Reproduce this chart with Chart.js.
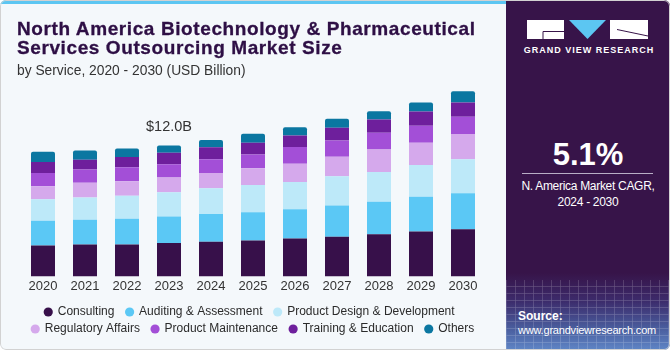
<!DOCTYPE html>
<html>
<head>
<meta charset="utf-8">
<script src="https://cdn.jsdelivr.net/npm/chart.js@4.4.1/dist/chart.umd.min.js"></script>
<style>
html, body { margin: 0; padding: 0; background: #ffffff; }
#card { position: relative; width: 670px; height: 350px; overflow: hidden; background: #f4f8fb; border-radius: 6px; font-family: 'Liberation Sans', Arial, sans-serif; }
#strip { position: absolute; left: 0; top: 0; width: 506px; height: 4px; background: #5cc6f2; }
#chartbox { position: absolute; left: 0; top: 0; width: 505px; height: 350px; }
#title { position: absolute; left: 17px; top: 18.9px; font-size: 19px; line-height: 19.3px; font-weight: bold; color: #2e0f45; letter-spacing: 0.6px; white-space: nowrap; z-index: 2; -webkit-text-stroke: 0.3px #2e0f45; }
#sub { position: absolute; left: 17px; top: 64px; font-size: 13.8px; line-height: 13.8px; color: #333333; white-space: nowrap; z-index: 2; }
#side { position: absolute; left: 506px; top: 0; width: 164px; height: 350px;
  background: linear-gradient(to bottom, #371449 0%, #371449 78%, #3d2c6c 86%, #4b5f9f 94%, #5f86c6 100%); }
#grid { position: absolute; left: 506px; top: 280px; width: 164px; height: 70px; opacity: 0.25;
  background-image: repeating-linear-gradient(90deg, rgba(255,255,255,0.6) 0 1px, transparent 1px 9px), repeating-linear-gradient(0deg, rgba(255,255,255,0.6) 0 1px, transparent 1px 7px); }
#brand { position: absolute; left: 506px; width: 164px; top: 46.3px; text-align: center; font-size: 9px; line-height: 9px; font-weight: bold; color: #ffffff; letter-spacing: 1px; padding-left: 1px; }
#cagr { position: absolute; left: 506px; width: 164px; top: 139.4px; text-align: center; font-size: 31px; line-height: 31px; font-weight: bold; color: #ffffff; }
#rule { position: absolute; left: 522px; width: 131px; top: 173px; height: 1px; background: #b9aec6; }
#cagrtxt { position: absolute; left: 506px; width: 164px; top: 177.8px; text-align: center; font-size: 12px; line-height: 16px; color: #ffffff; letter-spacing: -0.3px; }
#src1 { position: absolute; left: 518px; top: 310px; font-size: 12px; line-height: 12px; font-weight: bold; color: #ffffff; }
#src2 { position: absolute; left: 518px; top: 324.6px; font-size: 11px; line-height: 11px; color: #ffffff; letter-spacing: -0.2px; }
#logo { position: absolute; left: 527px; top: 20px; }
#frame { position: absolute; left: 0; top: 0; width: 670px; height: 350px; box-sizing: border-box; border: 1px solid #d2d2d2; border-radius: 6px; pointer-events: none; z-index: 5; }
</style>
</head>
<body>
<div id="card">
  <div id="strip"></div>
  <div id="chartbox"><canvas id="c"></canvas></div>
  <div id="title">North America Biotechnology &amp; Pharmaceutical<br>Services Outsourcing Market Size</div>
  <div id="sub">by Service, 2020 - 2030 (USD Billion)</div>
  <div id="side"></div>
  <div id="grid"></div>
  <svg id="logo" width="122" height="20" viewBox="0 0 122 20">
    <rect x="0" y="0" width="37" height="19" fill="#ffffff"/>
    <path d="M16 11.5 H37 M16 11.5 V19" stroke="#371449" stroke-width="1" fill="none"/>
    <polygon points="42,0 79,0 60.5,19" fill="#5cc6f2"/>
    <rect x="83" y="0" width="38" height="19" fill="#ffffff"/>
    <path d="M90 9.5 L121 16" stroke="#371449" stroke-width="1" fill="none"/>
  </svg>
  <div id="brand">GRAND VIEW RESEARCH</div>
  <div id="cagr">5.1%</div>
  <div id="rule"></div>
  <div id="cagrtxt">N. America Market CAGR,<br>2024 - 2030</div>
  <div id="src1">Source:</div>
  <div id="src2">www.grandviewresearch.com</div>
  <div id="frame"></div>
</div>
<script>
// ---- data (USD Billion) ----
const years = ['2020', '2021', '2022', '2023', '2024', '2025', '2026', '2027', '2028', '2029', '2030'];
const consulting          = [2.84, 2.93, 2.93, 3.05, 3.17, 3.29, 3.47, 3.63, 3.86, 4.11, 4.32];
const auditingAssessment  = [2.27, 2.27, 2.36, 2.45, 2.54, 2.60, 2.69, 2.86, 2.99, 3.20, 3.30];
const productDesignDev    = [1.97, 2.02, 2.11, 2.21, 2.36, 2.48, 2.50, 2.69, 2.72, 2.90, 3.11];
const regulatoryAffairs   = [1.18, 1.36, 1.31, 1.36, 1.40, 1.54, 1.67, 1.79, 2.06, 2.03, 2.33];
const productMaintenance  = [1.21, 1.21, 1.30, 1.21, 1.27, 1.27, 1.54, 1.48, 1.54, 1.57, 1.57];
const trainingEducation   = [1.02, 0.91, 0.93, 1.06, 1.09, 1.06, 1.05, 1.18, 1.21, 1.30, 1.30];
const others              = [0.94, 0.84, 0.79, 0.66, 0.66, 0.84, 0.76, 0.82, 0.76, 0.82, 1.03];
const seriesNames = ['Consulting', 'Auditing & Assessment', 'Product Design & Development', 'Regulatory Affairs', 'Product Maintenance', 'Training & Education', 'Others'];
const calloutYear = '2023';
const calloutText = '$12.0B';
const yAxisMax = 18;

// ---- styles ----
const seriesColors = ['#37104a', '#5bc8f5', '#bde9f9', '#d5a9ec', '#a34fd7', '#6e1f9c', '#0b77a1'];
const FONT = "'Liberation Sans', Arial, sans-serif";

const seriesData = [consulting, auditingAssessment, productDesignDev, regulatoryAffairs, productMaintenance, trainingEducation, others];

const datasets = seriesNames.map((name, i) => ({
  label: name,
  data: seriesData[i],
  backgroundColor: seriesColors[i],
  borderWidth: 0,
  barPercentage: 24 / 42,
  categoryPercentage: 1,
  borderRadius: i === seriesNames.length - 1 ? { topLeft: 2, topRight: 2, bottomLeft: 0, bottomRight: 0 } : 0,
  borderSkipped: false
}));

const calloutPlugin = {
  id: 'callout',
  afterDatasetsDraw(chart) {
    const idx = years.indexOf(calloutYear);
    const total = seriesData.reduce((s, arr) => s + arr[idx], 0);
    const x = chart.scales.x.getPixelForValue(idx);
    const y = chart.scales.y.getPixelForValue(total);
    const ctx = chart.ctx;
    ctx.save();
    ctx.font = '14.5px ' + FONT;
    ctx.fillStyle = '#333333';
    ctx.textAlign = 'center';
    ctx.textBaseline = 'middle';
    ctx.fillText(calloutText, x, y - 18);
    ctx.restore();
  }
};

const baseLabels = Chart.defaults.plugins.legend.labels.generateLabels;

new Chart(document.getElementById('c'), {
  type: 'bar',
  data: { labels: years, datasets },
  plugins: [calloutPlugin],
  options: {
    responsive: true,
    maintainAspectRatio: false,
    animation: false,
    layout: { padding: { left: 22, right: 21, top: 80, bottom: 5 } },
    plugins: {
      tooltip: { enabled: false },
      legend: {
        position: 'bottom',
        labels: {
          usePointStyle: true,
          pointStyle: 'circle',
          boxWidth: 7,
          boxHeight: 6.5,
          padding: 5,
          color: '#2b2b2b',
          font: { family: FONT, size: 12 },
          generateLabels(chart) {
            const items = baseLabels(chart);
            return items.map((it, i) => Object.assign(it, { text: i < items.length - 1 ? it.text + '  ' : it.text }));
          }
        }
      }
    },
    scales: {
      x: {
        stacked: true,
        grid: { display: false, drawTicks: false },
        border: { display: false },
        ticks: { padding: 2, color: '#333333', maxRotation: 0, autoSkip: false, font: { family: FONT, size: 13 } },
        afterFit(scale) { scale.height += 5; }
      },
      y: { stacked: true, display: false, min: 0, max: yAxisMax }
    }
  }
});
</script>
</body>
</html>
